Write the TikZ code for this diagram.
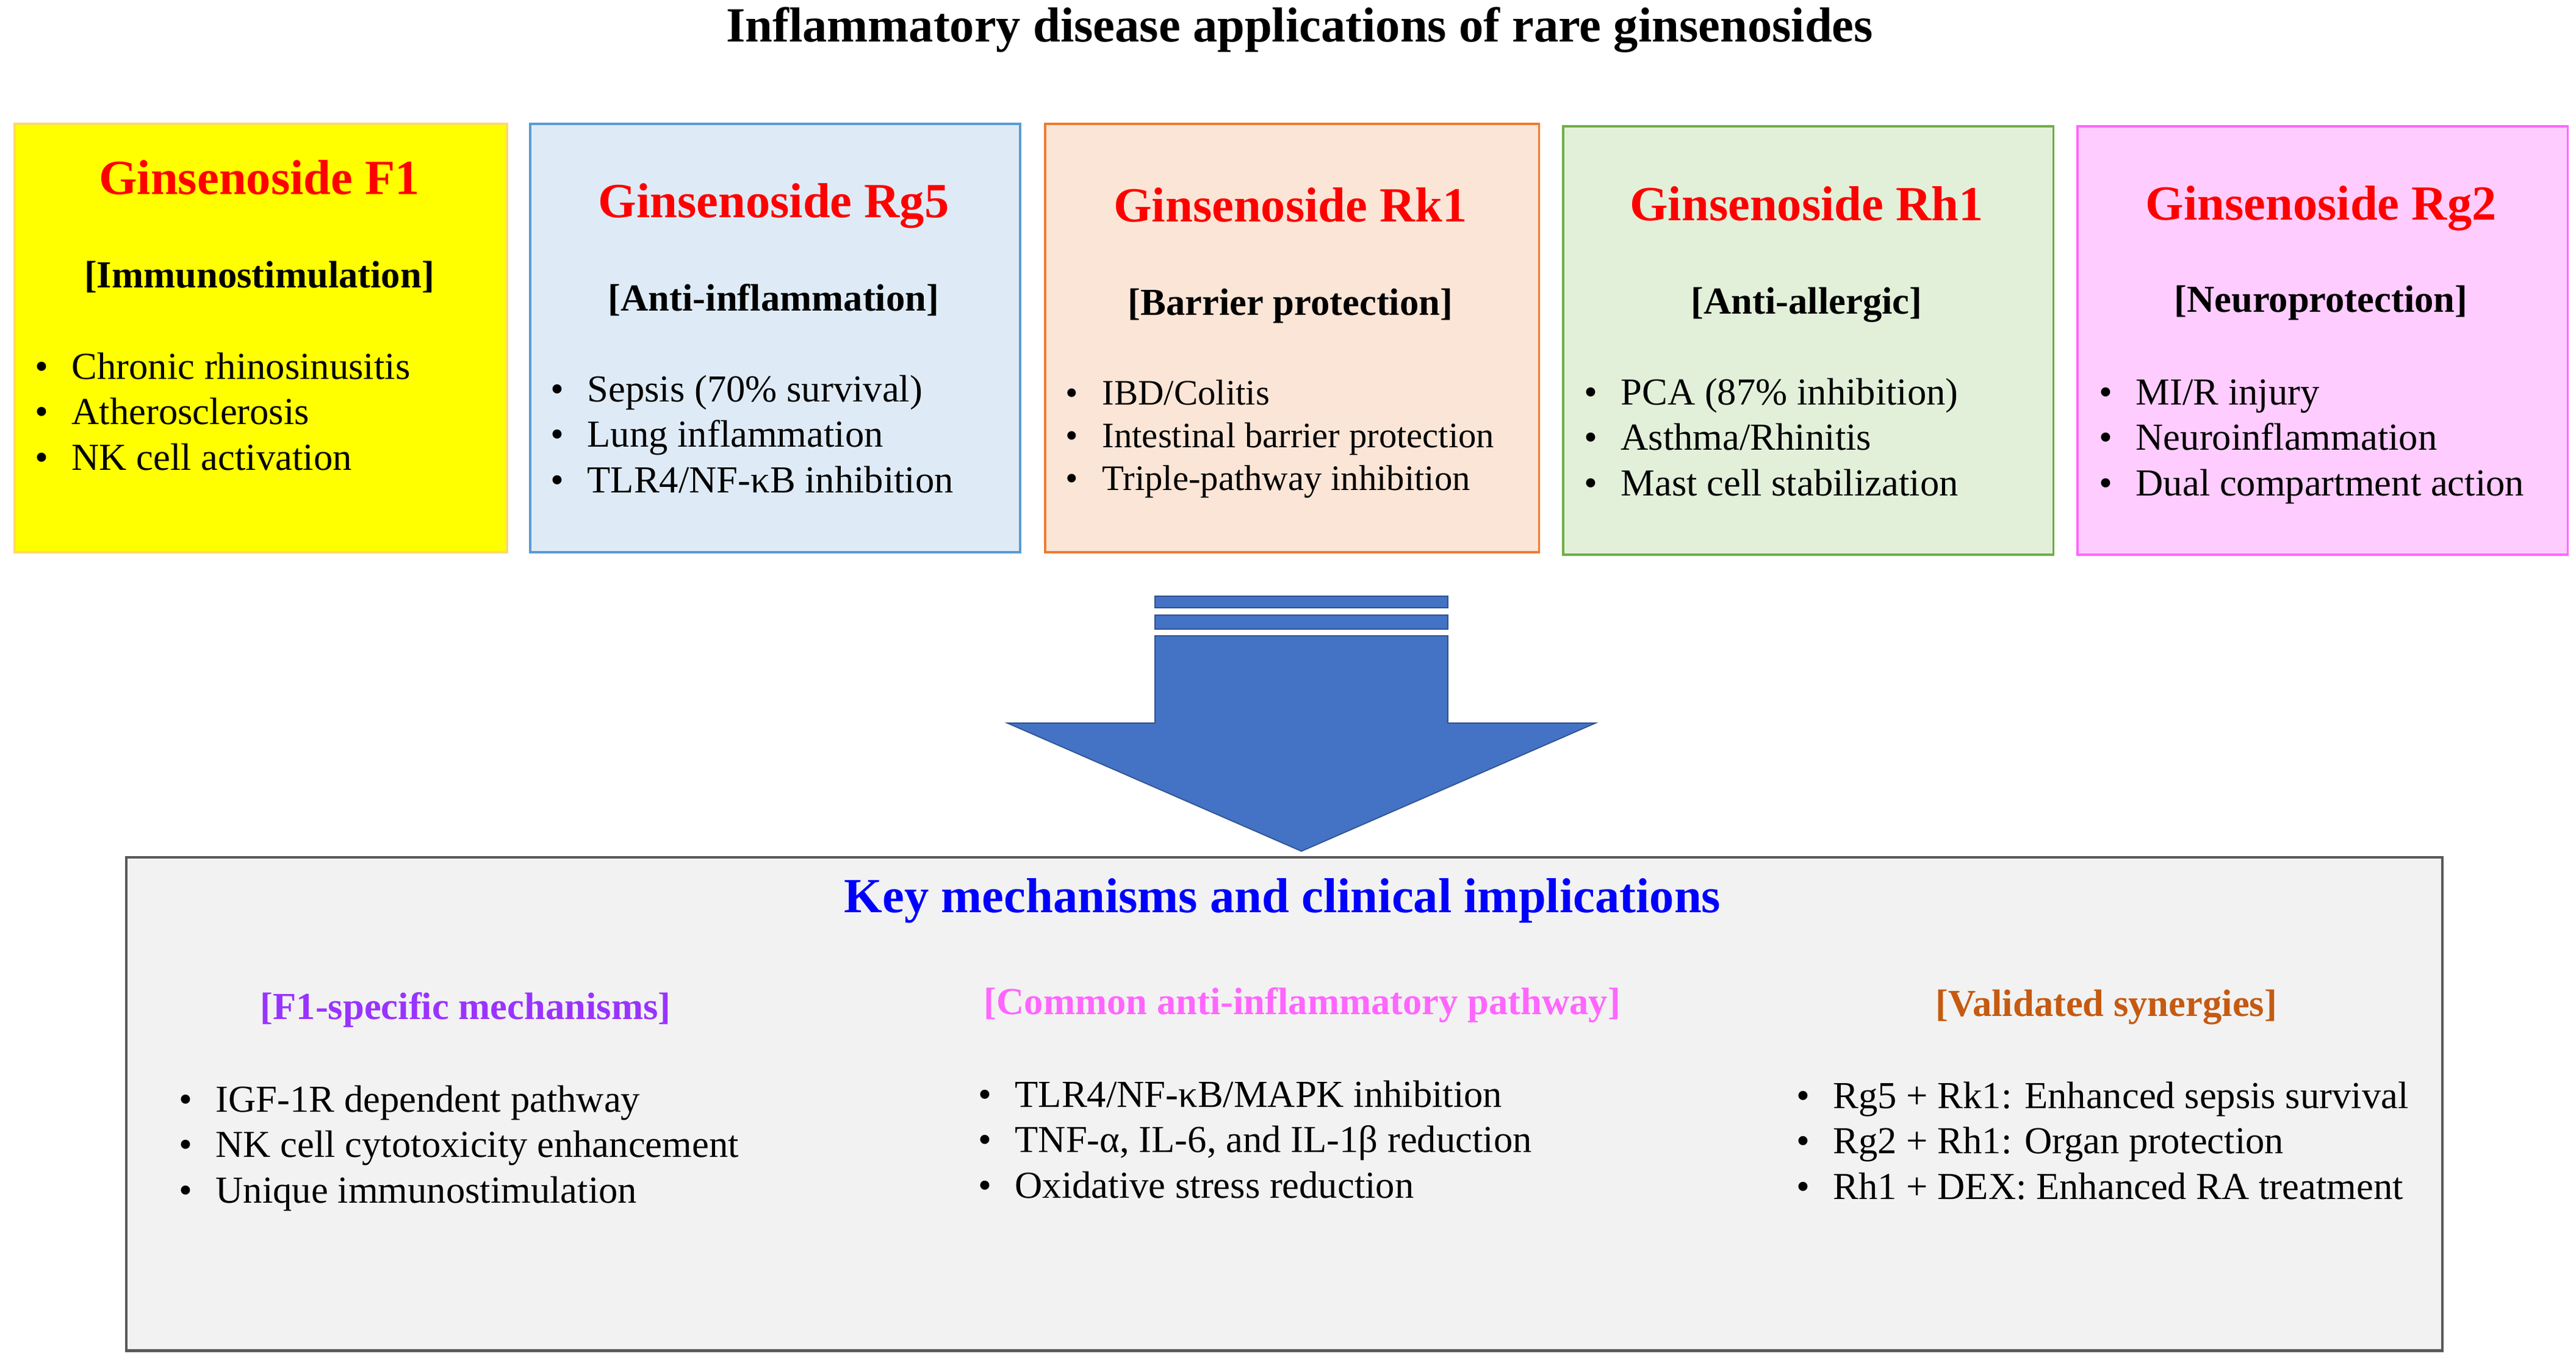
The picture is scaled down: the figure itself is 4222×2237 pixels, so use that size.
\documentclass[tikz,border=0pt]{standalone}
\usepackage{fontspec}
\setmainfont{Liberation Serif}

% Fonts
\newcommand{\gtitlefont}{\fontsize{22.9}{27.5}\selectfont\bfseries}
\newcommand{\gtagfont}{\fontsize{17.8}{21.3}\selectfont\bfseries}
\newcommand{\glistfont}{\fontsize{17.8}{21.3}\selectfont}
\newcommand{\gsmallfont}{\fontsize{16.7}{20}\selectfont}

% Bullet lists
\newcommand{\blist}[1]{\begin{tabular}[t]{@{}l@{}}#1\end{tabular}}
\newcommand{\bitem}{\makebox[0.6cm][l]{\textbullet}}

% Colours
\definecolor{f1fill}{HTML}{FFFF00}
\definecolor{f1line}{HTML}{FFD966}
\definecolor{rgfivefill}{HTML}{DEEBF7}
\definecolor{rgfiveline}{HTML}{5B9BD5}
\definecolor{rkfill}{HTML}{FBE5D6}
\definecolor{rkline}{HTML}{ED7D31}
\definecolor{rhfill}{HTML}{E2F0D9}
\definecolor{rhline}{HTML}{70AD47}
\definecolor{rgtwofill}{HTML}{FFCCFF}
\definecolor{rgtwoline}{HTML}{FF66FF}
\definecolor{arrowblue}{HTML}{4472C4}
\definecolor{arrowline}{HTML}{2F528F}
\definecolor{keyfill}{HTML}{F2F2F2}
\definecolor{keyline}{HTML}{595959}
\definecolor{keyblue}{HTML}{0000FF}
\definecolor{f1purple}{HTML}{9933FF}
\definecolor{commonpink}{HTML}{FF66FF}
\definecolor{synorange}{HTML}{C55A11}

\tikzset{
  gbox/.style={draw, line width=1.1pt, minimum height=7.02cm, anchor=north west, inner sep=0pt},
  gname/.style={font=\gtitlefont, text=red, anchor=base, inner sep=0pt},
  gtag/.style={font=\gtagfont, anchor=base, inner sep=0pt},
  glist/.style={font=\glistfont, anchor=base west, inner sep=0pt},
}

\begin{document}
\begin{tikzpicture}[x=0.01cm,y=-0.01cm]
  \useasboundingbox (0,0) rectangle (4222,2237);

  % Title
  \node[font=\gtitlefont, anchor=base, inner sep=0pt] (title) at (2130,69) {Inflammatory disease applications of rare ginsenosides};

  % Top boxes
  \node[gbox, fill=f1fill, draw=f1line, minimum width=8.07cm] (f1) at (22,201) {};
  \node[gbox, fill=rgfivefill, draw=rgfiveline, minimum width=8.03cm] (rgfive) at (867,201) {};
  \node[gbox, fill=rkfill, draw=rkline, minimum width=8.09cm] (rk) at (1711,201) {};
  \node[gbox, fill=rhfill, draw=rhline, minimum width=8.03cm] (rh) at (2560,205) {};
  \node[gbox, fill=rgtwofill, draw=rgtwoline, minimum width=8.03cm] (rgtwo) at (3403,205) {};

  % Ginsenoside F1
  \node[gname] (f1name) at (425,319) {Ginsenoside F1};
  \node[gtag] (f1tag) at (425,472) {[Immunostimulation]};
  \node[glist] (f1list) at (57,621) {\blist{\bitem Chronic rhinosinusitis\\ \bitem Atherosclerosis\\ \bitem NK cell activation}};

  % Ginsenoside Rg5
  \node[gname] (rgfivename) at (1268,357) {Ginsenoside Rg5};
  \node[gtag] (rgfivetag) at (1268,510) {[Anti-inflammation]};
  \node[glist] (rgfivelist) at (902,658) {\blist{\bitem Sepsis (70\% survival)\\ \bitem Lung inflammation\\ \bitem TLR4/NF-κB inhibition}};

  % Ginsenoside Rk1
  \node[gname] (rkname) at (2115,364) {Ginsenoside Rk1};
  \node[gtag] (rktag) at (2115,517) {[Barrier protection]};
  \node[glist, font=\gsmallfont] (rklist) at (1746,663) {\blist{\bitem IBD/Colitis\\ \bitem Intestinal barrier protection\\ \bitem Triple-pathway inhibition}};

  % Ginsenoside Rh1
  \node[gname] (rhname) at (2961,362) {Ginsenoside Rh1};
  \node[gtag] (rhtag) at (2961,515) {[Anti-allergic]};
  \node[glist] (rhlist) at (2596,663) {\blist{\bitem PCA (87\% inhibition)\\ \bitem Asthma/Rhinitis\\ \bitem Mast cell stabilization}};

  % Ginsenoside Rg2
  \node[gname] (rgtwoname) at (3804,361) {Ginsenoside Rg2};
  \node[gtag] (rgtwotag) at (3804,512) {[Neuroprotection]};
  \node[glist] (rgtwolist) at (3440,663) {\blist{\bitem MI/R injury\\ \bitem Neuroinflammation\\ \bitem Dual compartment action}};

  % Block arrow
  \coordinate (tip) at (2133,1395);
  \filldraw[fill=arrowblue, draw=arrowline, line width=0.5pt] (1893,977) rectangle (2373,996);
  \filldraw[fill=arrowblue, draw=arrowline, line width=0.5pt] (1893,1008) rectangle (2373,1031);
  \filldraw[fill=arrowblue, draw=arrowline, line width=0.5pt] (1893,1042) -- (2373,1042) -- (2373,1185) -- (2615,1185) -- (tip) -- (1651,1185) -- (1893,1185) -- cycle;

  % Bottom box
  \node[draw=keyline, fill=keyfill, line width=1.2pt, minimum width=37.94cm, minimum height=8.08cm, anchor=north west, inner sep=0pt] (keys) at (205,1403) {};
  \node[font=\gtitlefont, text=keyblue, anchor=base, inner sep=0pt] (keytitle) at (2102,1495) {Key mechanisms and clinical implications};

  % Columns
  \node[gtag, anchor=base west, text=f1purple] (f1head) at (426,1670) {[F1-specific mechanisms]};
  \node[gtag, anchor=base west, text=commonpink] (commonhead) at (1612,1662) {[Common anti-inflammatory pathway]};
  \node[gtag, anchor=base west, text=synorange] (synhead) at (3172,1665) {[Validated synergies]};

  \node[glist] (f1mech) at (293,1822) {\blist{\bitem IGF-1R dependent pathway\\ \bitem NK cell cytotoxicity enhancement\\ \bitem Unique immunostimulation}};
  \node[glist] (commonmech) at (1603,1814) {\blist{\bitem TLR4/NF-κB/MAPK inhibition\\ \bitem TNF-α, IL-6, and IL-1β reduction\\ \bitem Oxidative stress reduction}};
  \node[glist] (synmech) at (2944,1816) {\blist{\bitem Rg5 + Rk1: Enhanced sepsis survival\\ \bitem Rg2 + Rh1: Organ protection\\ \bitem Rh1 + DEX: Enhanced RA treatment}};

\end{tikzpicture}
\end{document}
